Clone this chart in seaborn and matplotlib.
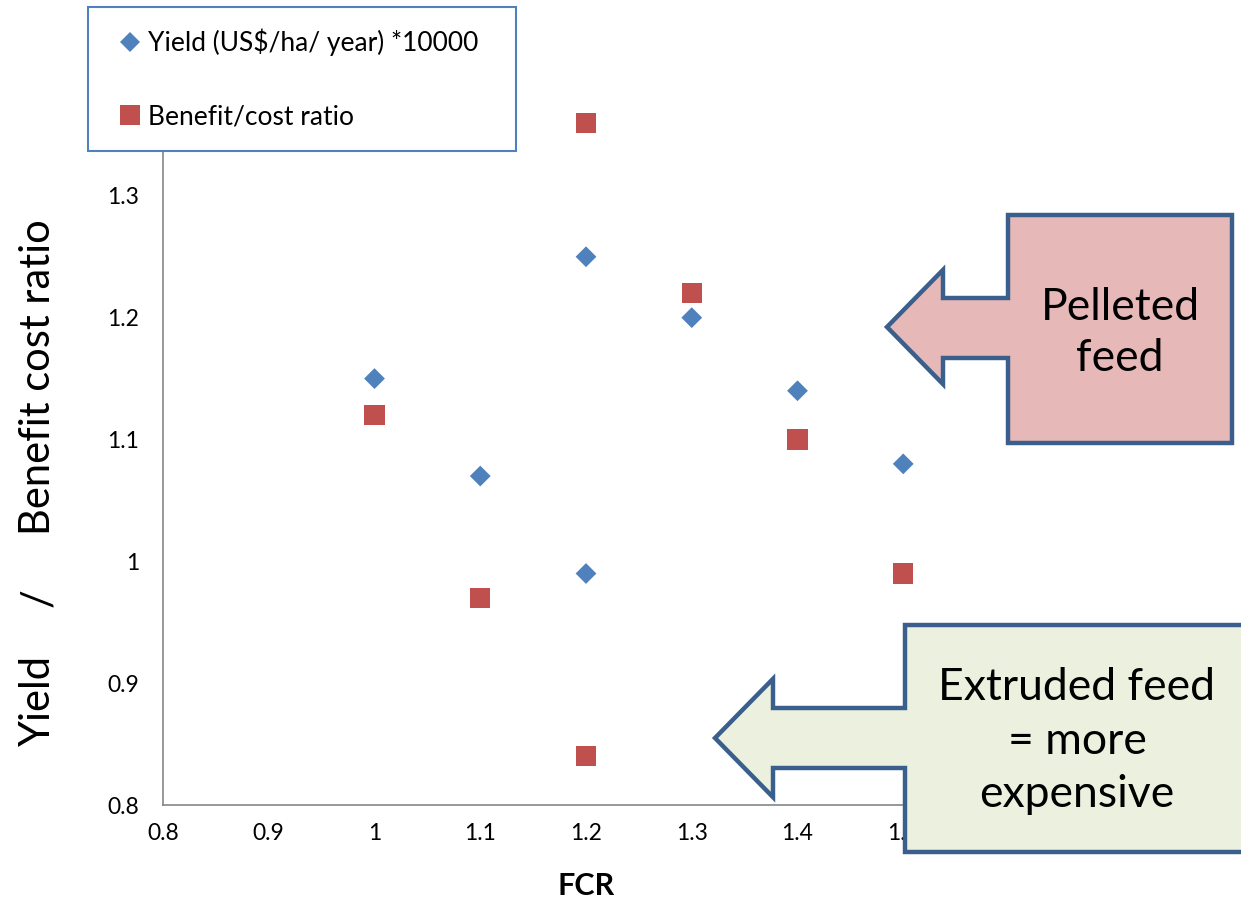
import matplotlib
matplotlib.use("Agg")
import matplotlib.pyplot as plt
from matplotlib.patches import Polygon, Rectangle
from matplotlib.lines import Line2D
import seaborn as sns
import pandas as pd

sns.set_theme(style="white")
plt.rcParams["font.family"] = ["Lato", "DejaVu Sans"]
plt.rcParams["text.color"] = "black"
plt.rcParams["axes.labelcolor"] = "black"

# Feed conversion ratio and the two measured series
fcr = [1.0, 1.1, 1.2, 1.2, 1.3, 1.4, 1.5]
yield_vals = [1.15, 1.07, 1.25, 0.99, 1.20, 1.14, 1.08]
bc_fcr = [1.0, 1.1, 1.2, 1.2, 1.3, 1.4, 1.5]
bc_vals = [1.12, 0.97, 1.36, 0.84, 1.22, 1.10, 0.99]

yield_label = "Yield (US$/ha/ year) *10000"
bc_label = "Benefit/cost ratio"
x_ticks = [0.8, 0.9, 1.0, 1.1, 1.2, 1.3, 1.4, 1.5]
x_tick_labels = ["0.8", "0.9", "1", "1.1", "1.2", "1.3", "1.4", "1.5"]
y_ticks = [0.8, 0.9, 1.0, 1.1, 1.2, 1.3]
y_tick_labels = ["0.8", "0.9", "1", "1.1", "1.2", "1.3"]

BLUE = "#4F81BD"
RED = "#C0504D"
EDGE = "#3A5F8D"

W, H = 1241, 899
fig = plt.figure(figsize=(W / 100, H / 100), dpi=100)
ax = fig.add_axes([163 / W, 1 - 805 / H, (1009 - 163) / W, (805 - 74) / H])

df_y = pd.DataFrame({"FCR": fcr, "value": yield_vals})
df_b = pd.DataFrame({"FCR": bc_fcr, "value": bc_vals})
sns.scatterplot(data=df_y, x="FCR", y="value", marker="D", s=112,
                color=BLUE, edgecolor="none", ax=ax, zorder=3)
sns.scatterplot(data=df_b, x="FCR", y="value", marker="s", s=215,
                color=RED, edgecolor="none", ax=ax, zorder=3)

ax.set_xlim(0.8, 1.6)
ax.set_ylim(0.8, 1.4)
ax.set_xticks(x_ticks)
ax.set_xticklabels(x_tick_labels)
ax.set_yticks(y_ticks)
ax.set_yticklabels(y_tick_labels)
ax.tick_params(axis="both", length=0, labelsize=16.5, colors="black")
ax.tick_params(axis="x", pad=13)
ax.tick_params(axis="y", pad=17)
for side in ("top", "right"):
    ax.spines[side].set_visible(False)
for side in ("left", "bottom"):
    ax.spines[side].set_color("#868686")
    ax.spines[side].set_linewidth(1.2)
ax.grid(False)

ax.set_xlabel("FCR", fontsize=22, fontweight="bold", labelpad=20)
ax.set_ylabel("")

# Rotated axis title, in three pieces
for txt, yc in (("Yield", 700), ("/", 598), ("Benefit cost ratio", 377)):
    fig.text(50 / W, 1 - yc / H, txt, rotation=90, rotation_mode="anchor",
             fontsize=30, ha="center", va="baseline")

# Legend panel
fig.patches.append(Rectangle((88 / W, 1 - 151 / H), (516 - 88) / W, (151 - 7) / H,
                             transform=fig.transFigure, facecolor="white",
                             edgecolor=BLUE, linewidth=1.5, zorder=5))
handles = [
    Line2D([], [], marker="D", linestyle="none", color=BLUE, markersize=10.5,
           markeredgewidth=0),
    Line2D([], [], marker="s", linestyle="none", color=RED, markersize=14.5,
           markeredgewidth=0),
]
leg = fig.legend(handles, [yield_label, bc_label], loc="center left",
                 bbox_to_anchor=(119 / W, 1 - 79 / H), frameon=False,
                 fontsize=19, labelspacing=1.85, handletextpad=0.28,
                 handlelength=0.8, borderpad=0, borderaxespad=0)
leg.set_zorder(6)

# Callout shapes drawn in figure pixel space
def callout(box, shaft, head_x, tip, fill):
    x0, y0, x1, y1 = box
    sy0, sy1 = shaft
    tx, ty = tip
    hy0, hy1 = ty - (head_x - tx) * 1.02, ty + (head_x - tx) * 1.02
    pts = [(x0, y0), (x1, y0), (x1, y1), (x0, y1), (x0, sy1), (head_x, sy1),
           (head_x, hy1), (tx, ty), (head_x, hy0), (head_x, sy0), (x0, sy0)]
    pts = [(px / W, 1 - py / H) for px, py in pts]
    fig.patches.append(Polygon(pts, closed=True, transform=fig.transFigure,
                               facecolor=fill, edgecolor=EDGE, linewidth=3.2,
                               joinstyle="miter", zorder=7))

callout((1008, 215, 1232, 443), (298, 358), 943, (887, 327), "#E6B9B8")
callout((905, 625, 1260, 852), (708, 768), 773, (715, 738), "#EBF1DE")

fig.text(1120 / W, 1 - 333 / H, "Pelleted\nfeed", fontsize=32, ha="center",
         va="center", linespacing=1.3, zorder=8)
fig.text(1077 / W, 1 - 741 / H, "Extruded feed\n= more\nexpensive", fontsize=32,
         ha="center", va="center", linespacing=1.38, zorder=8)

fig.savefig("out.png", dpi=100)
